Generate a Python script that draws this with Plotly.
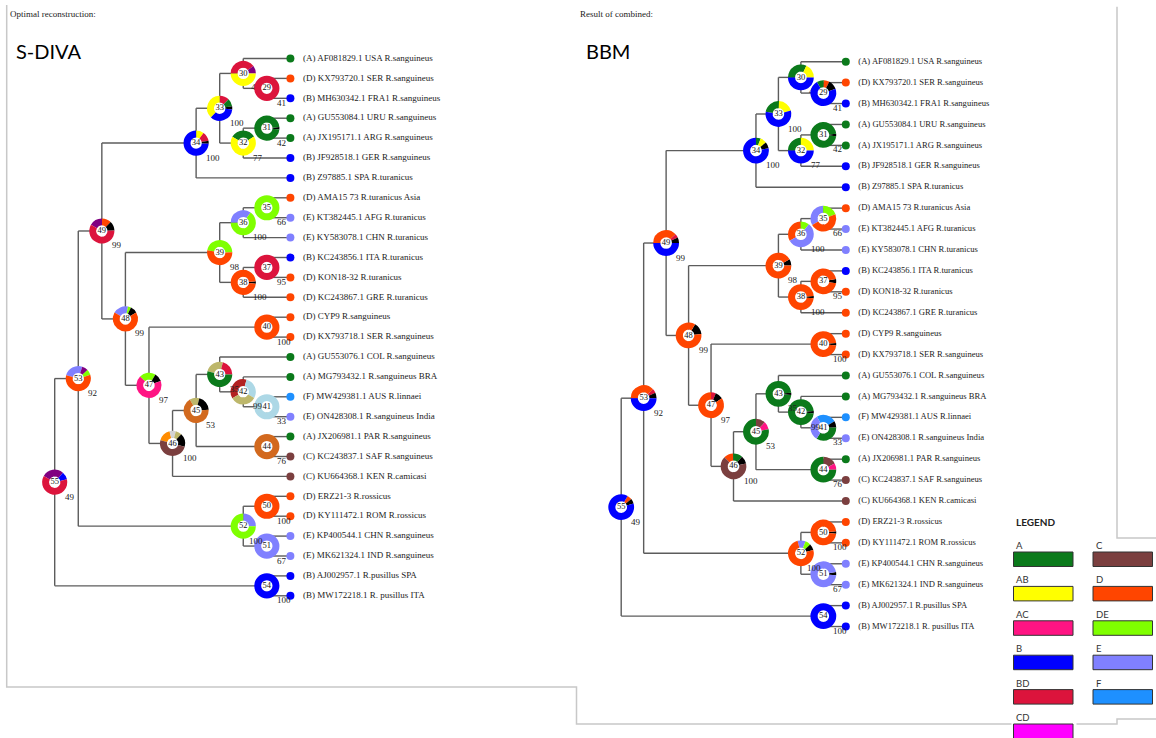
import plotly.graph_objects as go

W, H = 1156, 738

# ---------------- data ----------------
LEAF_LABELS = [
    "(A) AF081829.1 USA R.sanguineus",
    "(D) KX793720.1 SER R.sanguineus",
    "(B) MH630342.1 FRA1 R.sanguineus",
    "(A) GU553084.1 URU R.sanguineus",
    "(A) JX195171.1 ARG R.sanguineus",
    "(B) JF928518.1 GER R.sanguineus",
    "(B) Z97885.1 SPA R.turanicus",
    "(D) AMA15 73 R.turanicus Asia",
    "(E) KT382445.1 AFG R.turanicus",
    "(E) KY583078.1 CHN R.turanicus",
    "(B) KC243856.1 ITA R.turanicus",
    "(D) KON18-32 R.turanicus",
    "(D) KC243867.1 GRE R.turanicus",
    "(D) CYP9 R.sanguineus",
    "(D) KX793718.1 SER R.sanguineus",
    "(A) GU553076.1 COL R.sanguineus",
    "(A) MG793432.1 R.sanguineus BRA",
    "(F) MW429381.1 AUS R.linnaei",
    "(E) ON428308.1 R.sanguineus India",
    "(A) JX206981.1 PAR R.sanguineus",
    "(C) KC243837.1 SAF R.sanguineus",
    "(C) KU664368.1 KEN R.camicasi",
    "(D) ERZ21-3 R.rossicus",
    "(D) KY111472.1 ROM R.rossicus",
    "(E) KP400544.1 CHN R.sanguineus",
    "(E) MK621324.1 IND R.sanguineus",
    "(B) AJ002957.1 R.pusillus SPA",
    "(B) MW172218.1 R. pusillus ITA",
]
LEAF_AREAS = [lab[1] for lab in LEAF_LABELS]

# internal nodes: id -> (child1, child2); leaves are "L1".."L28"
NODE_IDS = list(range(29, 56))
NODE_CHILDREN = [
    ("L2", "L3"), ("L1", 29), ("L4", "L5"), (31, "L6"), (30, 32), (33, "L7"),
    ("L8", "L9"), (35, "L10"), ("L11", "L12"), (37, "L13"), (36, 38),
    ("L14", "L15"), ("L18", "L19"), ("L17", 41), ("L16", 42), ("L20", "L21"),
    (43, 44), (45, "L22"), (40, 46), (39, 47), (34, 48), ("L23", "L24"),
    ("L25", "L26"), (50, 51), (49, 52), ("L27", "L28"), (53, 54),
]
BOOTSTRAP = [41, 41, 42, 77, 100, 100, 66, 100, 95, 100, 98, 100, 33, 99, 35,
             76, 53, 100, 97, 99, 99, 100, 67, 100, 92, 100, 49]
HIDDEN_BOOTSTRAP_NODES = [30]   # label lies underneath the pie of node 29
LABEL_NUDGE = {52: -4}          # small shift so "100" does not sit on "51"

COLORS = {
    "A": "#0B7A1B", "AB": "#FFFF00", "AC": "#FF1483", "B": "#0000FF",
    "BD": "#DC143C", "CD": "#FF00FF", "C": "#7B3F3F", "D": "#FF4500",
    "DE": "#7FFF00", "E": "#8080FF", "F": "#1E90FF", "other": "#000000",
    "purple": "#800080", "khaki": "#BDB76B", "lightblue": "#ADD8E6",
    "darkorange": "#FF8C00", "chocolate": "#D2691E", "lightgray": "#D3D3D3",
    "firebrick": "#B22222",
}
LEGEND_COL1 = ["A", "AB", "AC", "B", "BD", "CD"]
LEGEND_COL2 = ["C", "D", "DE", "E", "F"]

# pies: (start angle clockwise from 12 o'clock, [(area, fraction), ...])
SDIVA_PIES = [
    (0, [("BD", 1)]),
    (270, [("BD", .40), ("purple", .10), ("AB", .50)]),
    (85, [("other", .03), ("A", .97)]),
    (300, [("A", .33), ("AB", .67)]),
    (0, [("BD", .125), ("A", .10), ("other", .04), ("B", .36), ("AB", .375)]),
    (0, [("AB", .10), ("BD", .12), ("other", .04), ("B", .74)]),
    (0, [("DE", 1)]),
    (270, [("E", .35), ("DE", .65)]),
    (0, [("BD", 1)]),
    (85, [("other", .03), ("D", .97)]),
    (280, [("DE", .47), ("D", .53)]),
    (0, [("D", 1)]),
    (0, [("lightblue", 1)]),
    (240, [("firebrick", .375), ("lightblue", .29), ("khaki", .335)]),
    (285, [("khaki", .25), ("BD", .21), ("A", .54)]),
    (0, [("chocolate", 1)]),
    (330, [("khaki", .125), ("other", .2), ("chocolate", .675)]),
    (285, [("darkorange", .17), ("lightgray", .08), ("khaki", .08), ("other", .17), ("C", .50)]),
    (315, [("DE", .21), ("other", .11), ("AC", .68)]),
    (300, [("E", .2), ("DE", .04), ("other", .09), ("D", .67)]),
    (300, [("purple", .17), ("D", .12), ("other", .12), ("BD", .59)]),
    (0, [("D", 1)]),
    (0, [("E", 1)]),
    (0, [("E", .25), ("DE", .75)]),
    (285, [("E", .26), ("purple", .08), ("DE", .07), ("D", .59)]),
    (0, [("B", 1)]),
    (300, [("purple", .28), ("B", .10), ("BD", .62)]),
]
BBM_PIES = [
    (330, [("A", .09), ("D", .07), ("other", .12), ("B", .72)]),
    (270, [("A", .32), ("AB", .18), ("B", .50)]),
    (85, [("other", .03), ("A", .97)]),
    (270, [("A", .25), ("AB", .25), ("B", .50)]),
    (280, [("A", .23), ("AB", .20), ("B", .57)]),
    (0, [("A", .06), ("AB", .08), ("other", .08), ("B", .78)]),
    (240, [("E", .33), ("DE", .20), ("D", .47)]),
    (240, [("D", .33), ("DE", .11), ("E", .56)]),
    (80, [("other", .05), ("D", .95)]),
    (85, [("other", .03), ("D", .97)]),
    (60, [("other", .08), ("D", .92)]),
    (85, [("other", .03), ("D", .97)]),
    (330, [("F", .25), ("other", .08), ("A", .34), ("E", .33)]),
    (85, [("other", .03), ("A", .97)]),
    (85, [("other", .03), ("A", .97)]),
    (0, [("C", .17), ("AC", .08), ("A", .75)]),
    (0, [("C", .12), ("AC", .10), ("A", .78)]),
    (315, [("D", .12), ("A", .12), ("other", .10), ("C", .66)]),
    (0, [("BD", .06), ("other", .10), ("D", .84)]),
    (30, [("other", .15), ("D", .85)]),
    (270, [("D", .38), ("BD", .05), ("other", .07), ("B", .50)]),
    (85, [("other", .03), ("D", .97)]),
    (80, [("other", .04), ("E", .96)]),
    (345, [("E", .10), ("DE", .07), ("other", .08), ("D", .75)]),
    (270, [("D", .38), ("BD", .05), ("other", .07), ("B", .50)]),
    (0, [("B", 1)]),
    (30, [("D", .06), ("other", .06), ("B", .88)]),
]

# ---------------- layout of the two panels ----------------
PANELS = [
    dict(name="S-DIVA", header="Optimal reconstruction:", pies=SDIVA_PIES,
         leaf_x=290.4, step=23.57, y0=58.5, dy=19.9, r=12.6,
         title_x=14, header_x=8, font=9.0),
    dict(name="BBM", header="Result of combined:", pies=BBM_PIES,
         leaf_x=845.8, step=22.46, y0=61.7, dy=20.92, r=12.9,
         title_x=584, header_x=578, font=8.6),
]

children = dict(zip(NODE_IDS, NODE_CHILDREN))


def layout_tree(p):
    pos = {}
    height = {}
    for i in range(len(LEAF_LABELS)):
        pos["L%d" % (i + 1)] = [p["leaf_x"], p["y0"] + i * p["dy"]]
        height["L%d" % (i + 1)] = 0

    def visit(n):
        if n in pos:
            return
        for c in children[n]:
            visit(c)
        height[n] = 1 + max(height[c] for c in children[n])
        ys = [pos[c][1] for c in children[n]]
        pos[n] = [p["leaf_x"] - height[n] * p["step"], sum(ys) / len(ys)]

    for n in NODE_IDS:
        visit(n)
    return pos


fig = go.Figure()
LINE = "#5c5c5c"
SERIF = "Liberation Serif"

for p in PANELS:
    pos = layout_tree(p)
    # branches
    bx, by = [], []
    for n in NODE_IDS:
        c1, c2 = children[n]
        xn = pos[n][0]
        bx += [xn, xn, None]
        by += [pos[c1][1], pos[c2][1], None]
        for c in (c1, c2):
            bx += [xn, pos[c][0], None]
            by += [pos[c][1], pos[c][1], None]
    fig.add_trace(go.Scatter(x=bx, y=by, mode="lines",
                             line=dict(color=LINE, width=1.4),
                             hoverinfo="skip", showlegend=False))
    # leaf dots
    lx = [pos["L%d" % (i + 1)][0] for i in range(len(LEAF_LABELS))]
    ly = [pos["L%d" % (i + 1)][1] for i in range(len(LEAF_LABELS))]
    fig.add_trace(go.Scatter(x=lx, y=ly, mode="markers",
                             marker=dict(size=8, color=[COLORS[a] for a in LEAF_AREAS],
                                         line=dict(width=0)),
                             hoverinfo="skip", showlegend=False))
    # leaf labels
    fig.add_trace(go.Scatter(x=[v + 12.5 for v in lx], y=ly, mode="text",
                             text=LEAF_LABELS, textposition="middle right",
                             textfont=dict(family=SERIF, size=p["font"], color="#222"),
                             hoverinfo="skip", showlegend=False))
    nx = [pos[n][0] for n in NODE_IDS]
    ny = [pos[n][1] for n in NODE_IDS]
    # bootstrap labels hidden below pies
    hid = [i for i, n in enumerate(NODE_IDS) if n in HIDDEN_BOOTSTRAP_NODES]
    fig.add_trace(go.Scatter(x=[nx[i] + 8 for i in hid], y=[ny[i] + 14.5 for i in hid],
                             mode="text", text=[str(BOOTSTRAP[i]) for i in hid],
                             textposition="middle right",
                             textfont=dict(family=SERIF, size=9, color="#222"),
                             hoverinfo="skip", showlegend=False))
    # white centres + node numbers
    fig.add_trace(go.Scatter(x=nx, y=ny, mode="markers+text",
                             marker=dict(size=12, color="white", line=dict(width=0)),
                             text=[str(n) for n in NODE_IDS], textposition="middle center",
                             textfont=dict(family=SERIF, size=8.5, color="#111"),
                             hoverinfo="skip", showlegend=False))
    # donut pies
    r = p["r"]
    for n, (start, parts) in zip(NODE_IDS, p["pies"]):
        cx, cy = pos[n]
        fig.add_trace(go.Pie(
            values=[f for _, f in parts],
            labels=["%s-%d-%d" % (p["name"], n, k) for k in range(len(parts))],
            marker=dict(colors=[COLORS[a] for a, _ in parts], line=dict(width=0)),
            hole=0.45, sort=False, direction="clockwise", rotation=start,
            textinfo="none", hoverinfo="skip", showlegend=False,
            domain=dict(x=[(cx - r) / W, (cx + r) / W],
                        y=[1 - (cy + r) / H, 1 - (cy - r) / H]),
        ))
    # bootstrap labels drawn over the pies
    for i, n in enumerate(NODE_IDS):
        if n in HIDDEN_BOOTSTRAP_NODES:
            continue
        fig.add_annotation(x=nx[i] + 8 + LABEL_NUDGE.get(n, 0), y=ny[i] + 14.5,
                           text=str(BOOTSTRAP[i]),
                           showarrow=False, xanchor="left", yanchor="middle",
                           font=dict(family=SERIF, size=9, color="#222"))
    # titles
    fig.add_annotation(x=p["title_x"], y=51, text=p["name"], showarrow=False,
                       xanchor="left", yanchor="middle",
                       font=dict(family="Lato", size=20, color="#000"))
    fig.add_annotation(x=p["header_x"], y=14, text=p["header"], showarrow=False,
                       xanchor="left", yanchor="middle",
                       font=dict(family=SERIF, size=9, color="#222"))

# ---------------- frame lines ----------------
FRAME = "#c8c8c8"
frame_x = [6.7, 6.7, 576.5, 576.5, 1011.5, None, 1076.5, 1117, 1117, 1156, None,
           1117, 1117, 1156]
frame_y = [5, 687, 687, 724, 724, None, 724, 724, 719, 719, None,
           6.7, 538, 538]
fig.add_trace(go.Scatter(x=frame_x, y=frame_y, mode="lines",
                         line=dict(color=FRAME, width=1.5),
                         hoverinfo="skip", showlegend=False))

# ---------------- legend ----------------
shapes = []
fig.add_annotation(x=1014, y=522, text="<b>LEGEND</b>", showarrow=False,
                   xanchor="left", yanchor="middle",
                   font=dict(family="Lato", size=10, color="#222"))
for col, (items, x0) in enumerate([(LEGEND_COL1, 1013.5), (LEGEND_COL2, 1093)]):
    for i, key in enumerate(items):
        top = 552 + i * 34.4
        shapes.append(dict(type="rect", xref="x", yref="y", x0=x0, x1=x0 + 59.5,
                           y0=top, y1=top + 14.5, fillcolor=COLORS[key],
                           line=dict(color="#333", width=1), layer="above"))
        fig.add_annotation(x=x0 + 0.5, y=top - 6.5, text=key, showarrow=False,
                           xanchor="left", yanchor="middle",
                           font=dict(family="Lato", size=9.5, color="#333"))

fig.update_layout(
    width=W, height=H, margin=dict(l=0, r=0, t=0, b=0),
    paper_bgcolor="white", plot_bgcolor="white", shapes=shapes,
    xaxis=dict(range=[0, W], visible=False, fixedrange=True),
    yaxis=dict(range=[H, 0], visible=False, fixedrange=True),
)

fig.write_html("out.html",
               config={"displayModeBar": False},
               post_script="document.body.style.margin='0px';"
                           "document.body.style.overflow='hidden';")
